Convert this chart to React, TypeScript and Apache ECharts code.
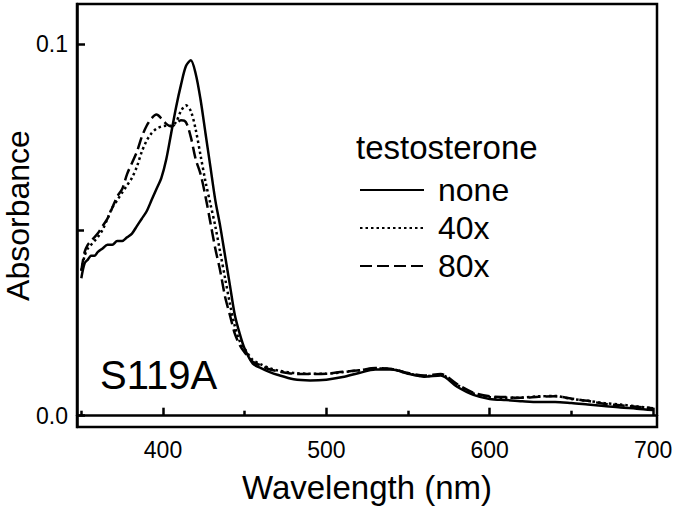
import React, { useEffect, useRef } from "react";
import * as echarts from "echarts";

const wavelengths = [
  350, 352, 354, 356, 358, 360, 363, 366, 369, 372, 375, 378, 381, 384, 387, 390, 393, 396, 399, 402,
  405, 408, 411, 414, 417, 420, 423, 426, 429, 432, 435, 438, 441, 444, 447, 450, 455, 460, 465, 470,
  480, 490, 500, 510, 520, 530, 540, 550, 560, 570, 580, 590, 600, 610, 620, 630, 640, 650, 660, 670,
  680, 690, 700,
];

const noneValues = [
  0.037, 0.041, 0.042, 0.043, 0.043, 0.044, 0.045, 0.046, 0.046, 0.047, 0.047, 0.048, 0.049, 0.051, 0.053, 0.055, 0.058, 0.061, 0.064, 0.069,
  0.076, 0.083, 0.089, 0.094, 0.0956, 0.092, 0.085, 0.076, 0.067, 0.058, 0.051, 0.043, 0.035, 0.027, 0.022, 0.018, 0.014, 0.0128, 0.0118, 0.011,
  0.0098, 0.0095, 0.0097, 0.0104, 0.0115, 0.0124, 0.0124, 0.0113, 0.0105, 0.0108, 0.0078, 0.0056, 0.0045, 0.0042, 0.0039, 0.0037, 0.0037, 0.0034, 0.003, 0.0026,
  0.0022, 0.0019, 0.0015,
];

const x40Values = [
  0.039, 0.043, 0.045, 0.046, 0.047, 0.048, 0.05, 0.053, 0.056, 0.058, 0.06, 0.062, 0.064, 0.067, 0.071, 0.074, 0.076, 0.0772, 0.0778, 0.078,
  0.078, 0.079, 0.082, 0.0835, 0.082, 0.077, 0.07, 0.063, 0.057, 0.051, 0.044, 0.037, 0.03, 0.024, 0.02, 0.018, 0.015, 0.0138, 0.0128, 0.0122,
  0.0115, 0.0113, 0.0113, 0.0117, 0.0122, 0.0127, 0.0125, 0.0114, 0.0106, 0.011, 0.0083, 0.006, 0.005, 0.0048, 0.0049, 0.0052, 0.0053, 0.0045, 0.004, 0.0034,
  0.003, 0.0025, 0.002,
];

const x80Values = [
  0.039, 0.044, 0.046, 0.047, 0.048, 0.049, 0.051, 0.053, 0.056, 0.059, 0.061, 0.065, 0.068, 0.071, 0.075, 0.078, 0.08, 0.081, 0.08, 0.0785,
  0.0778, 0.0785, 0.0795, 0.079, 0.075, 0.069, 0.065, 0.059, 0.052, 0.045, 0.039, 0.032, 0.027, 0.022, 0.019, 0.017, 0.0145, 0.0135, 0.0125, 0.012,
  0.0113, 0.0112, 0.0113, 0.0118, 0.0122, 0.0128, 0.0126, 0.0115, 0.0108, 0.0112, 0.0085, 0.0062, 0.0052, 0.005, 0.0048, 0.0051, 0.0052, 0.0046, 0.004, 0.0032,
  0.0028, 0.0024, 0.002,
];

const seriesNames = ["none", "40x", "80x"];
const xMajorTicks = [400, 500, 600, 700];
const xMinorTicks = [350, 450, 550, 650];
const yMajorTicks = [0, 0.1];
const yMinorTicks = [0.05];

const FONT = "'Liberation Sans', Arial, Helvetica, sans-serif";

export default function App() {
  const ref = useRef<HTMLDivElement>(null);

  useEffect(() => {
    if (!ref.current) return;
    const chart = echarts.init(ref.current, undefined, { renderer: "svg" });
    const pairs = (vals: number[]) => wavelengths.map((w, i) => [w, vals[i]]);
    const xMin = 347.35;
    const xMax = 702.4;
    const yMin = -0.00304;
    const yMax = 0.11076;
    const lineW = 2.5;

    chart.setOption({
      animation: false,
      backgroundColor: "#fff",
      textStyle: { fontFamily: FONT, color: "#000" },
      grid: {
        left: 77,
        top: 4,
        right: 20,
        bottom: 80,
        outerBoundsMode: "none",
        containLabel: false,
        show: true,
        borderColor: "#000",
        borderWidth: 2.5,
        backgroundColor: "transparent",
      },
      legend: {
        data: seriesNames,
        orient: "vertical",
        left: 359,
        top: 174,
        padding: 0,
        itemWidth: 64,
        itemHeight: 14,
        itemGap: 6,
        itemStyle: { opacity: 0, color: "transparent", borderWidth: 0 },
        textStyle: { fontSize: 32, color: "#000", fontFamily: FONT, padding: [0, 0, 0, 9] },
      },
      xAxis: [
        {
          type: "value",
          min: xMin,
          max: xMax,
          name: "Wavelength (nm)",
          nameLocation: "middle",
          nameGap: 44,
          nameMoveOverlap: false,
          nameTextStyle: { fontSize: 33, color: "#000", fontFamily: FONT },
          axisLine: { show: true, lineStyle: { color: "#000", width: lineW } },
          axisTick: { show: true, inside: true, length: 8, customValues: xMajorTicks, lineStyle: { color: "#000", width: lineW } },
          axisLabel: { customValues: xMajorTicks, fontSize: 23, color: "#000", margin: 11, fontFamily: FONT },
          splitLine: { show: false },
        },
        {
          type: "value",
          min: xMin,
          max: xMax,
          position: "bottom",
          axisLine: { show: false },
          axisTick: { show: true, inside: true, length: 5, customValues: xMinorTicks, lineStyle: { color: "#000", width: lineW } },
          axisLabel: { show: false },
          splitLine: { show: false },
        },
      ],
      yAxis: [
        {
          type: "value",
          min: yMin,
          max: yMax,
          name: "Absorbance",
          nameLocation: "middle",
          nameGap: 43,
          nameMoveOverlap: false,
          nameTextStyle: { fontSize: 32, color: "#000", fontFamily: FONT },
          axisLine: { show: true, lineStyle: { color: "#000", width: lineW } },
          axisTick: { show: true, inside: true, length: 8, customValues: yMajorTicks, lineStyle: { color: "#000", width: lineW } },
          axisLabel: {
            customValues: yMajorTicks,
            fontSize: 23,
            color: "#000",
            margin: 9,
            fontFamily: FONT,
            formatter: (v: number) => v.toFixed(1),
          },
          splitLine: { show: false },
        },
        {
          type: "value",
          min: yMin,
          max: yMax,
          position: "left",
          axisLine: { show: false },
          axisTick: { show: true, inside: true, length: 7, customValues: yMinorTicks, lineStyle: { color: "#000", width: lineW } },
          axisLabel: { show: false },
          splitLine: { show: false },
        },
      ],
      graphic: [
        {
          type: "text",
          left: 356,
          top: 131,
          style: { text: "testosterone", fontSize: 33, fill: "#000", fontFamily: FONT },
        },
        {
          type: "text",
          left: 100,
          top: 355,
          style: { text: "S119A", fontSize: 40, fill: "#000", fontFamily: FONT },
        },
      ],
      series: [
        {
          name: "none",
          type: "line",
          data: pairs(noneValues),
          symbol: "none",
          smooth: 0.3,
          lineStyle: { color: "#000", width: 2.5, type: "solid" },
          itemStyle: { color: "#000" },
        },
        {
          name: "40x",
          type: "line",
          data: pairs(x40Values),
          symbol: "none",
          smooth: 0.3,
          lineStyle: { color: "#000", width: 2.5, type: [2.5, 3] },
          itemStyle: { color: "#000" },
        },
        {
          name: "80x",
          type: "line",
          data: pairs(x80Values),
          symbol: "none",
          smooth: 0.3,
          lineStyle: { color: "#000", width: 2.5, type: [12, 5] },
          itemStyle: { color: "#000" },
        },
      ],
    });
    return () => chart.dispose();
  }, []);

  return <div ref={ref} style={{ width: 677, height: 507, position: "absolute", left: 0, top: 0 }} />;
}
